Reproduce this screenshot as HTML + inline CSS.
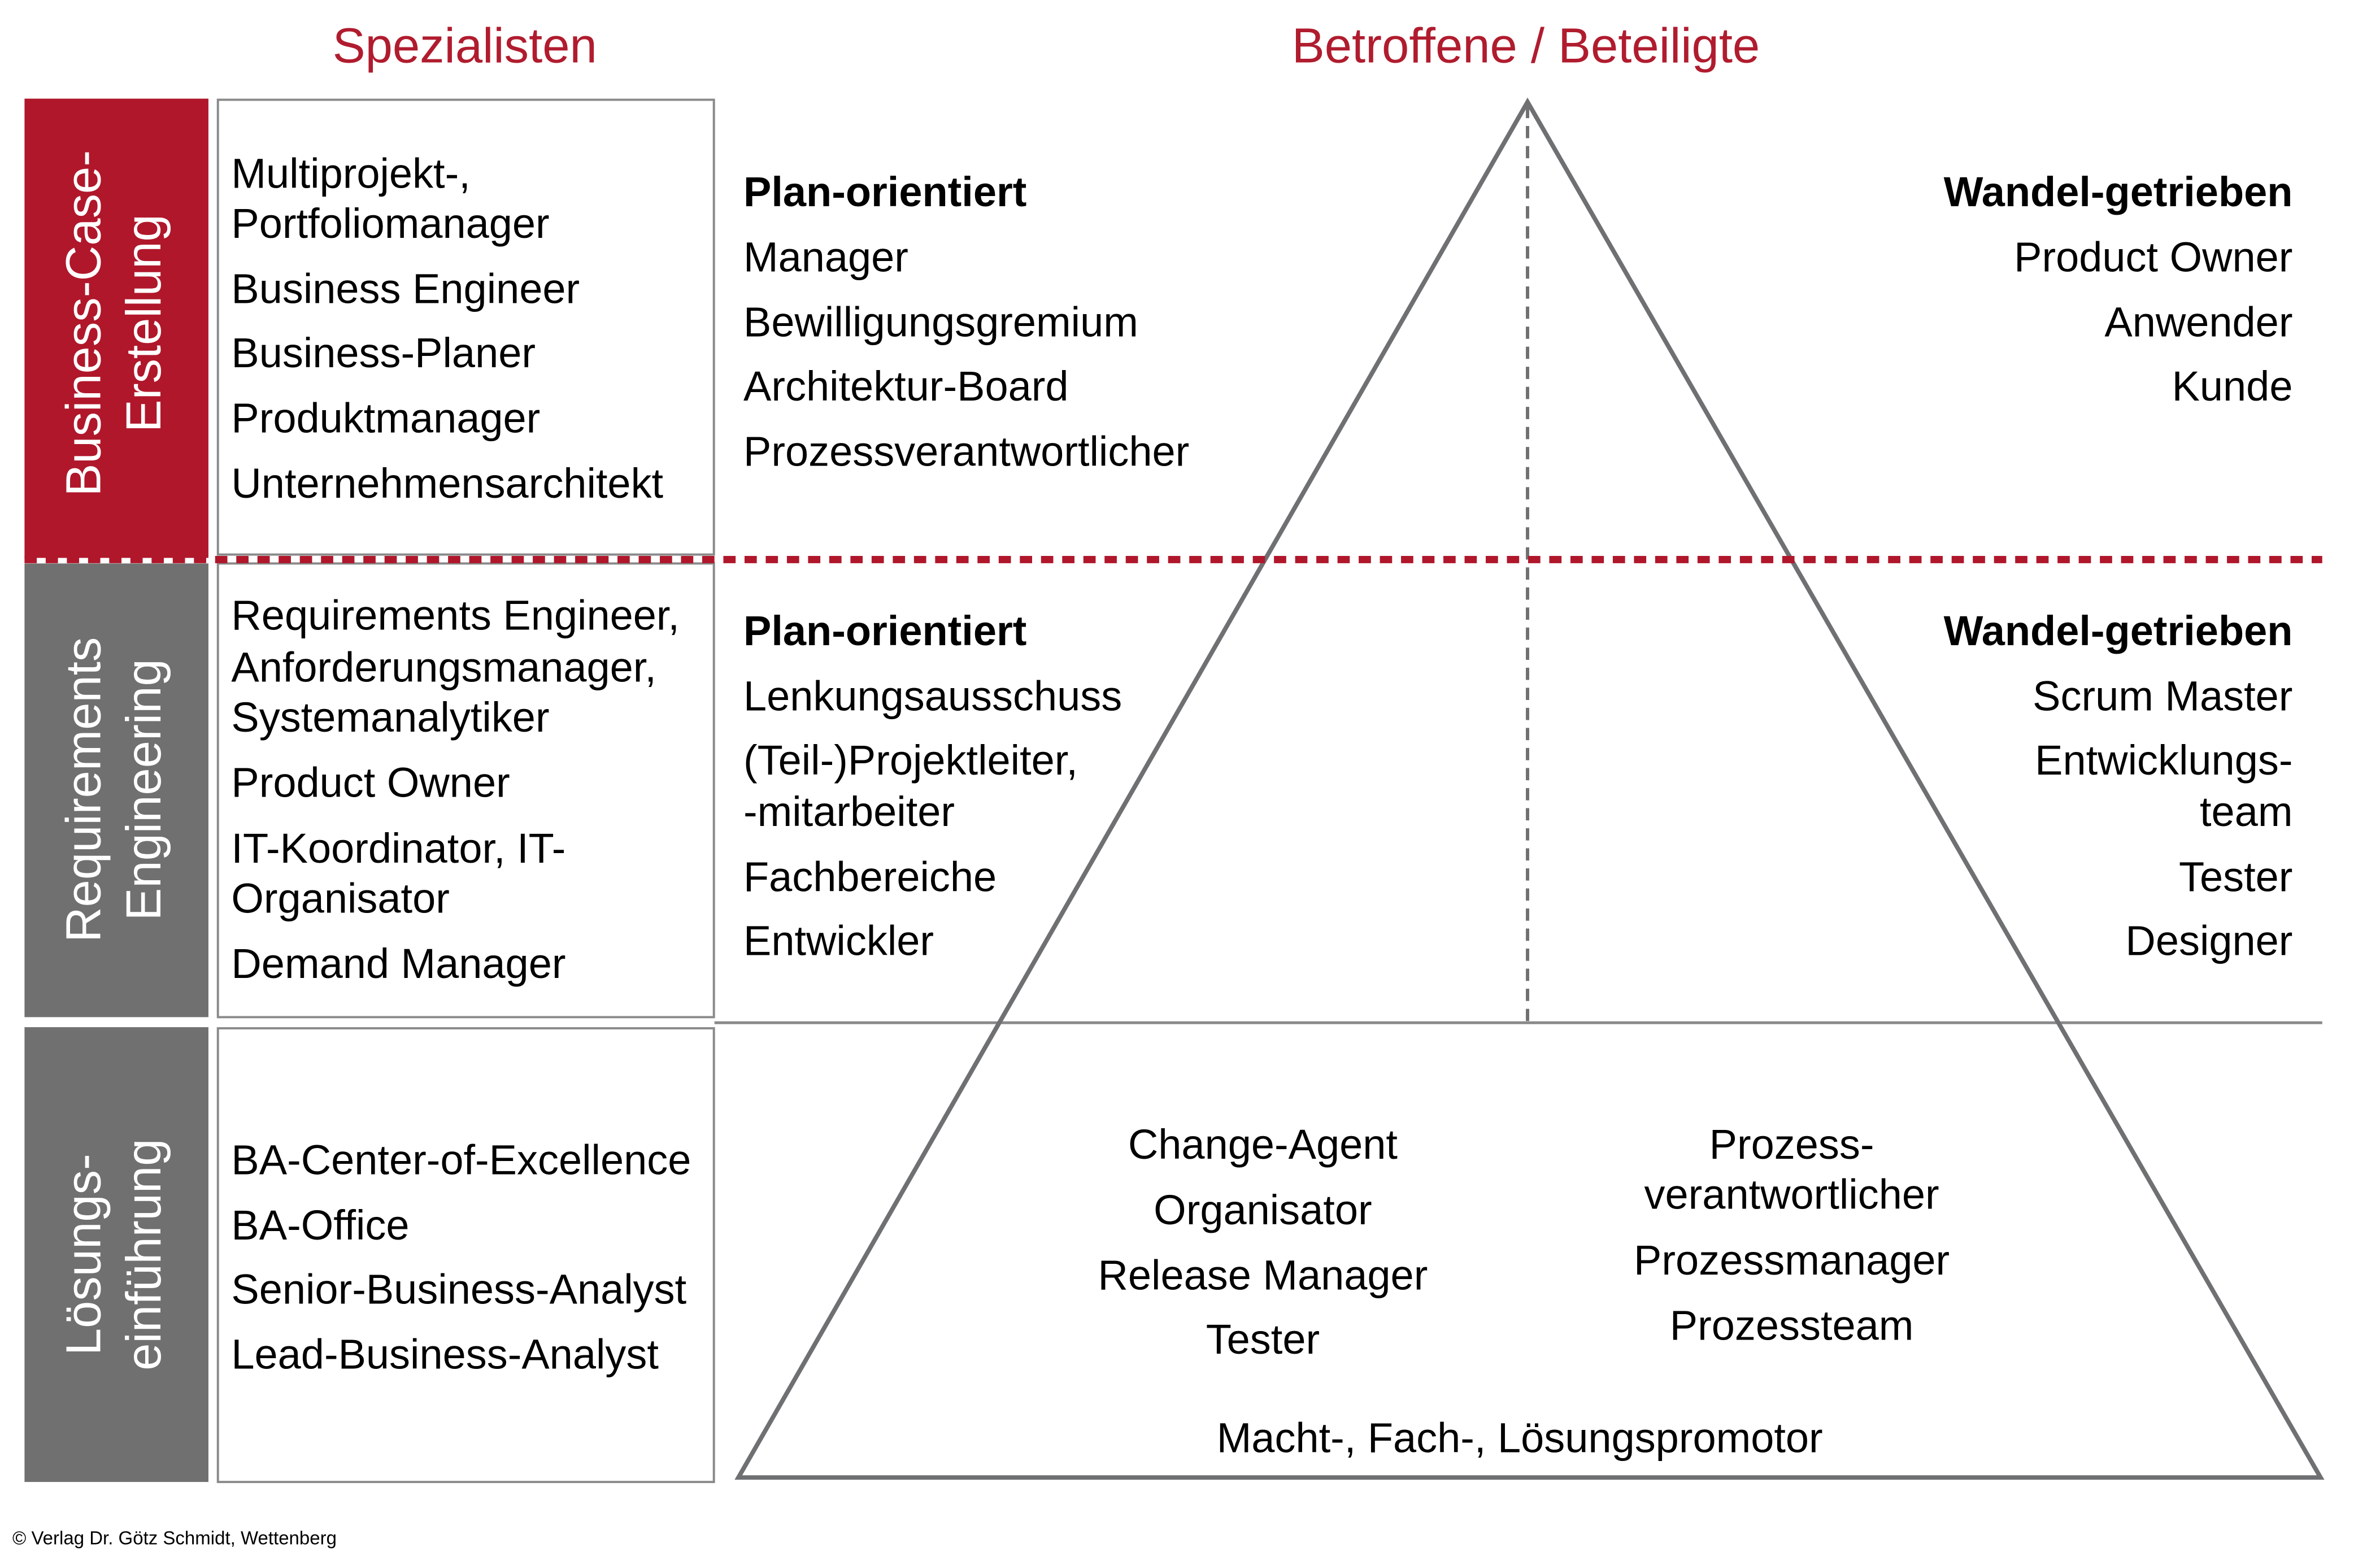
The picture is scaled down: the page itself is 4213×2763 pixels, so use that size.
<!DOCTYPE html>
<html><head><meta charset="utf-8"><style>
html,body{margin:0;padding:0;background:#fff;}
svg{display:block;}
text{font-family:"Liberation Sans",Arial,sans-serif;dominant-baseline:central;}
</style></head><body>
<svg width="4213" height="2763" viewBox="0 0 4213 2763" xmlns="http://www.w3.org/2000/svg">
<g transform="scale(0.9865)">
<text x="834" y="82" font-size="88" fill="#b01c2e" text-anchor="middle">Spezialisten</text>
<text x="2738" y="82" font-size="88" fill="#b01c2e" text-anchor="middle">Betroffene / Beteiligte</text>

<rect x="44" y="177" width="330" height="824" fill="#b0172b"/>
<rect x="44" y="1011" width="330" height="814" fill="#707070"/>
<rect x="44" y="1843" width="330" height="816" fill="#707070"/>

<g fill="#fff" font-size="88" text-anchor="middle">
<text transform="translate(150,580) rotate(-90)">Business-Case-</text>
<text transform="translate(258,580) rotate(-90)">Erstellung</text>
<text transform="translate(150,1417) rotate(-90)">Requirements</text>
<text transform="translate(258,1417) rotate(-90)">Engineering</text>
<text transform="translate(150,2251) rotate(-90)">Lösungs-</text>
<text transform="translate(258,2251) rotate(-90)">einführung</text>
</g>

<g fill="#fff" stroke="#8a8a8a" stroke-width="4">
<rect x="391" y="179" width="890" height="816"/>
<rect x="391" y="1011" width="890" height="814"/>
<rect x="391" y="1845" width="890" height="814"/>
</g>

<line x1="2741" y1="190" x2="2741" y2="1833" stroke="#707070" stroke-width="6" stroke-dasharray="22,14"/>
<line x1="1282" y1="1835" x2="4167" y2="1835" stroke="#8a8a8a" stroke-width="5"/>
<polygon points="2741,183 1325,2651 4164,2651" fill="none" stroke="#6f7072" stroke-width="8" stroke-linejoin="miter"/>

<line x1="44" y1="1004" x2="4167" y2="1004" stroke="#b0172b" stroke-width="13" stroke-dasharray="22,16"/>

<g font-size="75" fill="#000">
<text x="415" y="311">Multiprojekt-,</text>
<text x="415" y="401">Portfoliomanager</text>
<text x="415" y="518">Business Engineer</text>
<text x="415" y="633">Business-Planer</text>
<text x="415" y="750">Produktmanager</text>
<text x="415" y="867">Unternehmensarchitekt</text>

<text x="415" y="1104">Requirements Engineer,</text>
<text x="415" y="1197">Anforderungsmanager,</text>
<text x="415" y="1287">Systemanalytiker</text>
<text x="415" y="1404">Product Owner</text>
<text x="415" y="1522">IT-Koordinator, IT-</text>
<text x="415" y="1612">Organisator</text>
<text x="415" y="1729">Demand Manager</text>

<text x="415" y="2081">BA-Center-of-Excellence</text>
<text x="415" y="2198">BA-Office</text>
<text x="415" y="2313">Senior-Business-Analyst</text>
<text x="415" y="2430">Lead-Business-Analyst</text>

<text x="1334" y="344" font-weight="bold">Plan-orientiert</text>
<text x="1334" y="461">Manager</text>
<text x="1334" y="578">Bewilligungsgremium</text>
<text x="1334" y="693">Architektur-Board</text>
<text x="1334" y="810">Prozessverantwortlicher</text>

<text x="1334" y="1132" font-weight="bold">Plan-orientiert</text>
<text x="1334" y="1249">Lenkungsausschuss</text>
<text x="1334" y="1364">(Teil-)Projektleiter,</text>
<text x="1334" y="1456">-mitarbeiter</text>
<text x="1334" y="1573">Fachbereiche</text>
<text x="1334" y="1688">Entwickler</text>

<g text-anchor="end">
<text x="4114" y="344" font-weight="bold">Wandel-getrieben</text>
<text x="4114" y="461">Product Owner</text>
<text x="4114" y="578">Anwender</text>
<text x="4114" y="693">Kunde</text>
<text x="4114" y="1132" font-weight="bold">Wandel-getrieben</text>
<text x="4114" y="1249">Scrum Master</text>
<text x="4114" y="1364">Entwicklungs-</text>
<text x="4114" y="1456">team</text>
<text x="4114" y="1573">Tester</text>
<text x="4114" y="1688">Designer</text>
</g>

<g text-anchor="middle">
<text x="2266" y="2053">Change-Agent</text>
<text x="2266" y="2171">Organisator</text>
<text x="2266" y="2288">Release Manager</text>
<text x="2266" y="2403">Tester</text>
<text x="3215" y="2053">Prozess-</text>
<text x="3215" y="2143">verantwortlicher</text>
<text x="3215" y="2261">Prozessmanager</text>
<text x="3215" y="2378">Prozessteam</text>
<text x="2727" y="2580">Macht-, Fach-, Lösungspromotor</text>
</g>
</g>
</g>
<text x="22" y="2722" font-size="33" fill="#000">© Verlag Dr. Götz Schmidt, Wettenberg</text>
</svg>
</body></html>
